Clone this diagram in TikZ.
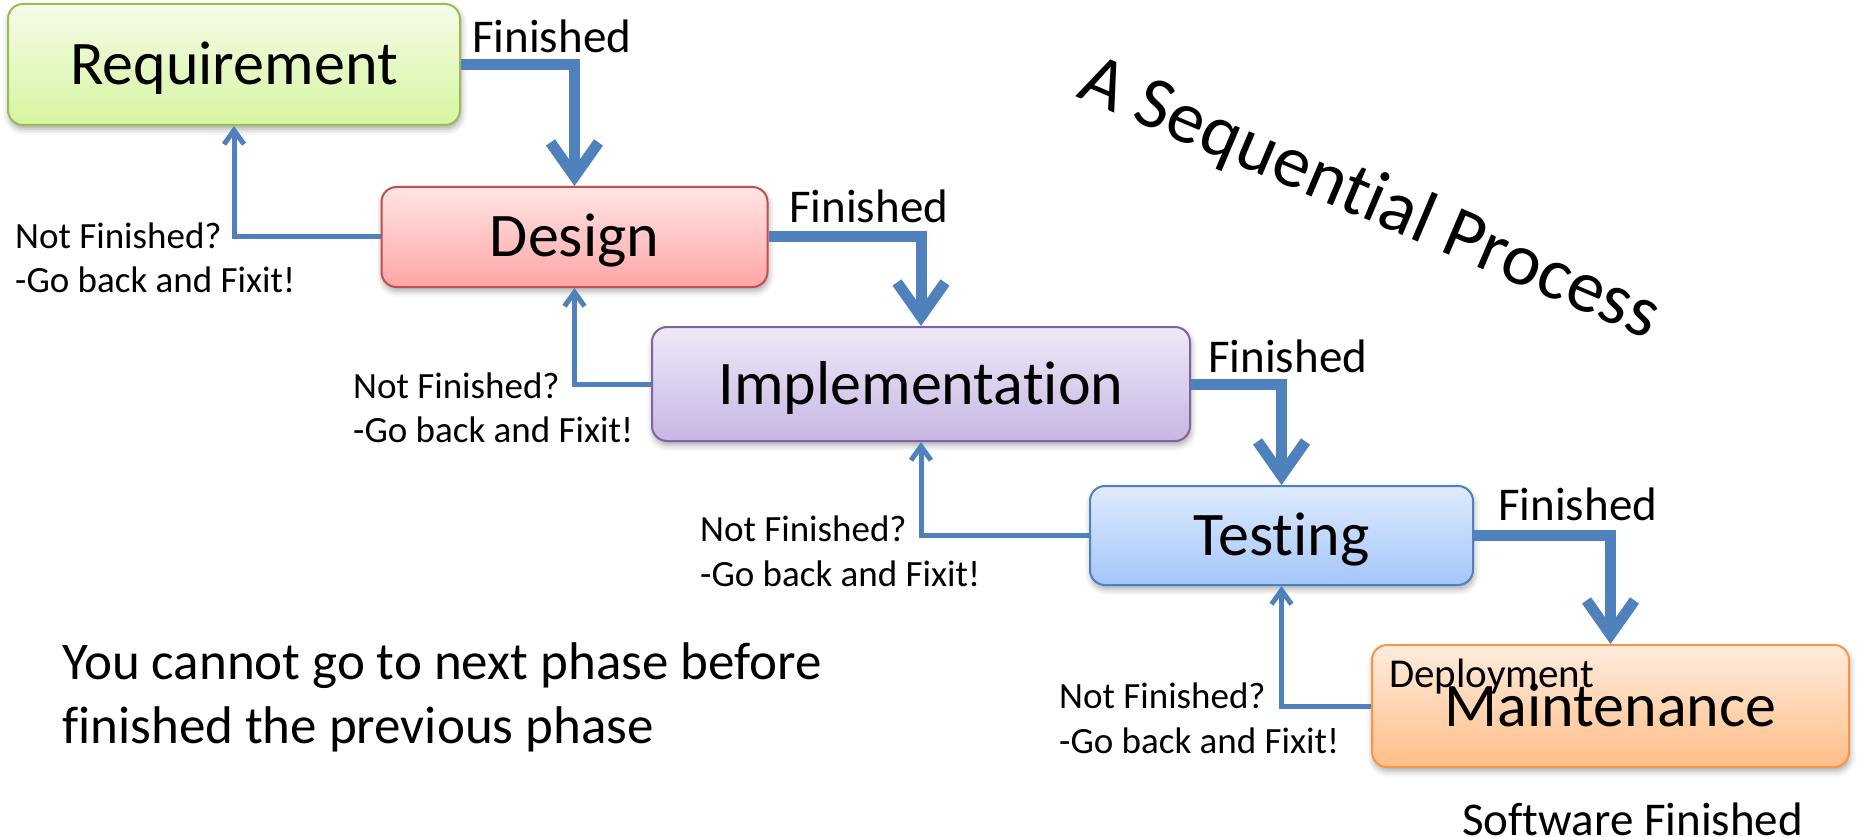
\documentclass[tikz,border=0pt]{standalone}
\usepackage{fontspec}
\setmainfont{Carlito}[Ligatures=NoCommon]
\usetikzlibrary{arrows.meta,shadows.blur}

\definecolor{conn}{RGB}{79,129,189}
\definecolor{reqline}{RGB}{155,187,89}
\definecolor{reqtop}{RGB}{245,252,232}
\definecolor{reqbot}{RGB}{214,245,160}
\definecolor{desline}{RGB}{192,80,77}
\definecolor{destop}{RGB}{255,229,229}
\definecolor{desbot}{RGB}{255,165,165}
\definecolor{impline}{RGB}{128,100,162}
\definecolor{imptop}{RGB}{238,233,248}
\definecolor{impbot}{RGB}{200,182,228}
\definecolor{tstline}{RGB}{79,129,189}
\definecolor{tsttop}{RGB}{223,234,253}
\definecolor{tstbot}{RGB}{164,198,250}
\definecolor{mntline}{RGB}{247,150,70}
\definecolor{mnttop}{RGB}{255,236,222}
\definecolor{mntbot}{RGB}{255,190,135}

\tikzset{
  phase/.style={draw, line width=2pt, rounded corners=15pt, inner sep=0pt,
    font=\fontsize{62}{70}\selectfont, text height=40pt, text depth=0pt,
    blur shadow={shadow xshift=1pt, shadow yshift=-4pt,
      shadow blur radius=6pt, shadow opacity=35}},
  fin/.style={draw=conn, line width=11pt,
    -{Straight Barb[length=34pt, width=48pt]}},
  back/.style={draw=conn, line width=5pt,
    -{Straight Barb[length=14pt, width=20pt]}},
  lbl/.style={font=\fontsize{47}{56}\selectfont, inner sep=0pt, anchor=base west},
  note/.style={font=\fontsize{37}{45}\selectfont, inner sep=0pt, anchor=base west},
  big/.style={font=\fontsize{53}{64}\selectfont, inner sep=0pt, anchor=base west},
}

\begin{document}
\begin{tikzpicture}[x=1pt, y=-1pt]
\useasboundingbox (0,0) rectangle (1858,837);

% phases
\node[phase, draw=reqline, top color=reqtop, bottom color=reqbot,
      minimum width=452pt, minimum height=121pt] (req) at (234,64.5) {Requirement};
\node[phase, draw=desline, top color=destop, bottom color=desbot,
      minimum width=386pt, minimum height=100pt] (des) at (574.5,237) {Design};
\node[phase, draw=impline, top color=imptop, bottom color=impbot,
      minimum width=538pt, minimum height=114pt] (imp) at (921,384) {Implementation};
\node[phase, draw=tstline, top color=tsttop, bottom color=tstbot,
      minimum width=383pt, minimum height=99pt] (tst) at (1281.5,535.5) {Testing};
\node[phase, draw=mntline, top color=mnttop, bottom color=mntbot,
      minimum width=477pt, minimum height=122pt] (mnt) at (1610.5,706) {Maintenance};
\node[inner sep=0pt, anchor=base west, font=\fontsize{41}{48}\selectfont] (dep)
      at (1389,687) {Deployment};

% forward flow
\draw[fin] (req.east) -| (des.north);
\draw[fin] (des.east) -| (imp.north);
\draw[fin] (imp.east) -| (tst.north);
\draw[fin] (tst.east) -| (mnt.north);

% way back
\draw[back] (des.west) -| (req.south);
\draw[back] (imp.west) -| (des.south);
\draw[back] (tst.west) -| (imp.south);
\draw[back] (mnt.west) -| (tst.south);

% labels
\node[lbl] (f1) at (472,53) {Finished};
\node[lbl] (f2) at (789,223) {Finished};
\node[lbl] (f3) at (1208,372) {Finished};
\node[lbl] (f4) at (1498,520) {Finished};

\node[note] (n1a) at (15,248) {Not Finished?};
\node[note] (n1b) at (15,292) {-Go back and Fixit!};
\node[note] (n2a) at (353,398) {Not Finished?};
\node[note] (n2b) at (353,442) {-Go back and Fixit!};
\node[note] (n3a) at (700,541) {Not Finished?};
\node[note] (n3b) at (700,586) {-Go back and Fixit!};
\node[note] (n4a) at (1059,708) {Not Finished?};
\node[note] (n4b) at (1059,753) {-Go back and Fixit!};

\node[font=\fontsize{74}{88}\selectfont, inner sep=0pt, anchor=base, rotate=-23]
      (title) at (1362,218) {A Sequential Process};

\node[big] (r1) at (62,679) {You cannot go to next phase before};
\node[big] (r2) at (62,743) {finished the previous phase};

\node[lbl] (done) at (1462,835) {Software Finished};
\end{tikzpicture}
\end{document}
